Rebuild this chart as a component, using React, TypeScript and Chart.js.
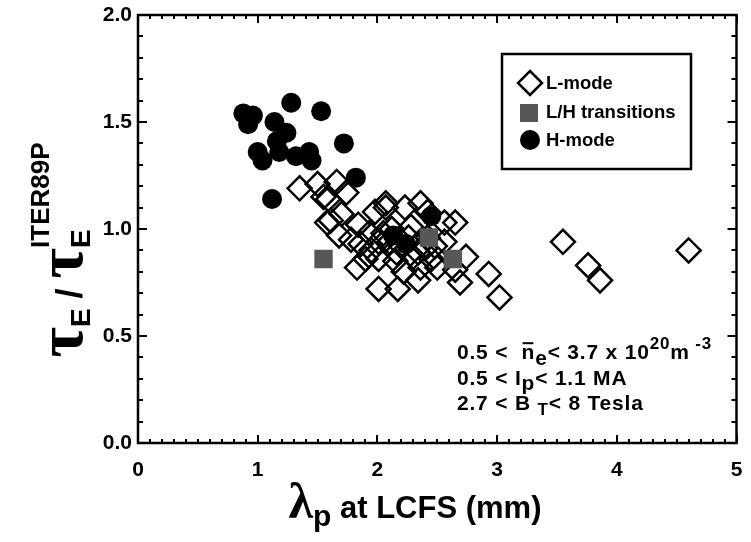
import React, { useEffect, useRef } from 'react';
import { Chart, registerables } from 'chart.js';

Chart.register(...registerables);

const SANS = '"Liberation Sans", Arial, Helvetica, sans-serif';
const SERIF = '"Liberation Serif", "DejaVu Serif", serif';

// H-mode (filled circles)
const hModeX = [0.88, 0.96, 0.92, 1.14, 1.28, 1.53, 1.24, 1.16, 1.0, 1.04, 1.18, 1.32, 1.43, 1.45, 1.72, 1.82, 1.12, 2.45, 2.13, 2.24];
const hModeY = [1.54, 1.53, 1.49, 1.5, 1.59, 1.55, 1.45, 1.41, 1.36, 1.32, 1.36, 1.34, 1.36, 1.32, 1.4, 1.24, 1.14, 1.06, 0.97, 0.93];

// L/H transitions (grey squares)
const lhX = [1.55, 2.63, 2.43];
const lhY = [0.86, 0.86, 0.96];

// L-mode (open diamonds)
const lModeX = [
  1.35, 1.5, 1.66, 1.74, 1.59, 1.58, 1.7, 1.61, 1.68, 1.78, 1.84, 1.98, 2.07, 2.07, 2.23, 2.36,
  2.56, 2.65, 1.93, 2.01, 1.83, 2.01, 2.16, 2.01, 2.17, 2.34, 2.5, 2.45, 2.69, 2.65, 2.74, 2.93,
  3.02, 2.34, 2.26, 2.12, 2.42, 2.56, 3.55, 3.76, 3.86, 4.6, 2.2, 2.3, 2.4, 2.05, 2.15, 1.95,
  2.28, 2.48, 2.36, 2.22, 1.9, 1.86, 2.1, 2.42, 1.55,
];
const lModeY = [
  1.19, 1.21, 1.22, 1.17, 1.14, 1.03, 1.07, 1.04, 0.97, 0.95, 1.02, 1.08, 1.12, 1.1, 1.1, 1.12,
  1.03, 1.03, 0.98, 0.94, 0.82, 0.86, 0.89, 0.72, 0.72, 0.76, 0.82, 0.86, 0.75, 0.81, 0.87, 0.79,
  0.68, 0.89, 0.96, 1.0, 0.96, 0.94, 0.94, 0.83, 0.76, 0.9, 0.92, 0.87, 0.91, 0.98, 0.85, 0.9,
  1.01, 0.92, 0.82, 0.8, 0.86, 0.93, 0.94, 1.08, 1.15,
];

const legendLabels = ['L-mode', 'L/H transitions', 'H-mode'];

const toPts = (xs: number[], ys: number[]) => xs.map((x, i) => ({ x, y: ys[i] }));

type Run = { t: string; size: number; serif?: boolean; dy?: number; over?: boolean; hold?: boolean };

function fontOf(r: Run) {
  return `bold ${r.size}px ${r.serif ? SERIF : SANS}`;
}

function drawRuns(ctx: CanvasRenderingContext2D, list: Run[], x: number, y: number, center: boolean, spacing = 0) {
  (ctx as any).letterSpacing = `${spacing}px`;
  const widths = list.map((r) => {
    ctx.font = fontOf(r);
    return ctx.measureText(r.t).width;
  });
  let total = 0;
  list.forEach((r, i) => {
    if (!r.hold) total += widths[i];
  });
  let cx = center ? x - total / 2 : x;
  ctx.textAlign = 'left';
  ctx.textBaseline = 'alphabetic';
  list.forEach((r, i) => {
    ctx.font = fontOf(r);
    const yy = y + (r.dy || 0);
    ctx.fillText(r.t, cx, yy);
    if (r.over) {
      ctx.fillRect(cx + 1, yy - r.size * 0.8, widths[i] - 2 - spacing, 2);
    }
    if (!r.hold) cx += widths[i];
  });
  (ctx as any).letterSpacing = '0px';
}

const framePlugin = {
  id: 'frameTicks',
  afterDraw(chart: any) {
    const ctx: CanvasRenderingContext2D = chart.ctx;
    const { left, right, top, bottom } = chart.chartArea;
    const xs = chart.scales.x;
    const ys = chart.scales.y;
    ctx.save();
    ctx.strokeStyle = '#000';
    ctx.fillStyle = '#000';
    ctx.lineWidth = 2;
    for (let i = 0; i <= 50; i++) {
      const v = i / 10;
      const px = Math.round(xs.getPixelForValue(v));
      const len = i % 10 === 0 ? 8 : 4;
      ctx.beginPath();
      ctx.moveTo(px, bottom);
      ctx.lineTo(px, bottom - len);
      ctx.moveTo(px, top);
      ctx.lineTo(px, top + len);
      ctx.stroke();
    }
    for (let i = 0; i <= 20; i++) {
      const v = i / 10;
      const py = Math.round(ys.getPixelForValue(v));
      const len = i % 5 === 0 ? 9 : 5;
      ctx.beginPath();
      ctx.moveTo(left, py);
      ctx.lineTo(left + len, py);
      ctx.moveTo(right, py);
      ctx.lineTo(right - len, py);
      ctx.stroke();
    }
    ctx.lineWidth = 2.5;
    ctx.strokeRect(left, top, right - left, bottom - top);

    // Legend
    ctx.lineWidth = 2.5;
    ctx.strokeRect(502, 54, 189, 115);
    ctx.beginPath();
    ctx.moveTo(530, 71);
    ctx.lineTo(542, 83);
    ctx.lineTo(530, 95);
    ctx.lineTo(518, 83);
    ctx.closePath();
    ctx.stroke();
    ctx.fillStyle = '#575757';
    ctx.fillRect(520, 104, 18, 18);
    ctx.fillStyle = '#000';
    ctx.beginPath();
    ctx.arc(530, 140, 10, 0, Math.PI * 2);
    ctx.fill();
    ctx.font = `bold 18.5px ${SANS}`;
    ctx.textAlign = 'left';
    ctx.textBaseline = 'middle';
    ctx.fillText(legendLabels[0], 546, 84);
    ctx.fillText(legendLabels[1], 546, 113);
    ctx.fillText(legendLabels[2], 546, 141);

    // Annotations
    drawRuns(ctx, [
      { t: '0.5 <  ', size: 21 },
      { t: 'n', size: 21, over: true },
      { t: 'e', size: 21, dy: 6 },
      { t: '< 3.7 x 10', size: 21 },
      { t: '20', size: 17, dy: -10 },
      { t: 'm', size: 21 },
      { t: ' -3', size: 17, dy: -10 },
    ], 457, 359, false, 0.8);
    drawRuns(ctx, [
      { t: '0.5 < I', size: 21 },
      { t: 'p', size: 21, dy: 5 },
      { t: '< 1.1 MA', size: 21 },
    ], 457, 385, false, 0.8);
    drawRuns(ctx, [
      { t: '2.7 < B ', size: 21 },
      { t: 'T', size: 17, dy: 5 },
      { t: '< 8 Tesla', size: 21 },
    ], 457, 410, false, 0.8);

    // X title
    drawRuns(ctx, [
      { t: 'λ', size: 50, serif: true },
      { t: 'p', size: 30, dy: 8 },
      { t: ' at LCFS (mm)', size: 31 },
    ], 415, 518, true);

    // Y title (rotated)
    ctx.save();
    ctx.translate(82, 250);
    ctx.rotate(-Math.PI / 2);
    drawRuns(ctx, [
      { t: 'τ', size: 66, serif: true },
      { t: 'E', size: 28, dy: 8 },
      { t: ' / ', size: 36 },
      { t: 'τ', size: 66, serif: true },
      { t: 'E', size: 28, dy: 8, hold: true },
      { t: 'ITER89P', size: 26, dy: -33 },
    ], 0, 0, true);
    ctx.restore();
    ctx.restore();
  },
};

export default function App() {
  const ref = useRef<HTMLCanvasElement>(null);
  useEffect(() => {
    const chart = new Chart(ref.current as HTMLCanvasElement, {
      type: 'scatter',
      data: {
        datasets: [
          {
            label: legendLabels[2],
            data: toPts(hModeX, hModeY),
            pointStyle: 'circle',
            pointRadius: 10,
            pointBackgroundColor: '#000',
            pointBorderWidth: 0,
            borderColor: '#000',
            order: 0,
          },
          {
            label: legendLabels[1],
            data: toPts(lhX, lhY),
            pointStyle: 'rect',
            pointRadius: 13,
            pointBackgroundColor: '#575757',
            pointBorderWidth: 0,
            borderColor: '#575757',
            order: 1,
          },
          {
            label: legendLabels[0],
            data: toPts(lModeX, lModeY),
            pointStyle: 'rectRot',
            pointRadius: 12,
            pointBackgroundColor: 'rgba(0,0,0,0)',
            pointBorderColor: '#000',
            pointBorderWidth: 2.5,
            order: 2,
          },
        ],
      },
      options: {
        responsive: false,
        animation: false,
        devicePixelRatio: 1,
        layout: { padding: { left: 0, right: 9, top: 15, bottom: 0 } },
        plugins: { legend: { display: false }, tooltip: { enabled: false } },
        scales: {
          x: {
            type: 'linear',
            min: 0,
            max: 5,
            grid: { display: false, drawTicks: false },
            border: { display: false },
            ticks: {
              stepSize: 1,
              padding: 15,
              color: '#000',
              font: { family: SANS, size: 21, weight: 'bold' },
            },
            afterFit: (s: any) => {
              s.height = 99;
              s.paddingLeft = 0;
              s.paddingRight = 0;
            },
          },
          y: {
            type: 'linear',
            min: 0,
            max: 2,
            grid: { display: false, drawTicks: false },
            border: { display: false },
            ticks: {
              stepSize: 0.5,
              padding: 6,
              color: '#000',
              font: { family: SANS, size: 21, weight: 'bold' },
              callback: (v: any) => Number(v).toFixed(1),
            },
            afterFit: (s: any) => {
              s.width = 138;
              s.paddingTop = 0;
              s.paddingBottom = 0;
            },
          },
        },
      } as any,
      plugins: [framePlugin],
    });
    return () => chart.destroy();
  }, []);
  return (
    <div style={{ position: 'absolute', left: 0, top: 0, width: 751, height: 542, background: '#fff' }}>
      <canvas ref={ref} width={751} height={542} style={{ display: 'block' }} />
    </div>
  );
}
